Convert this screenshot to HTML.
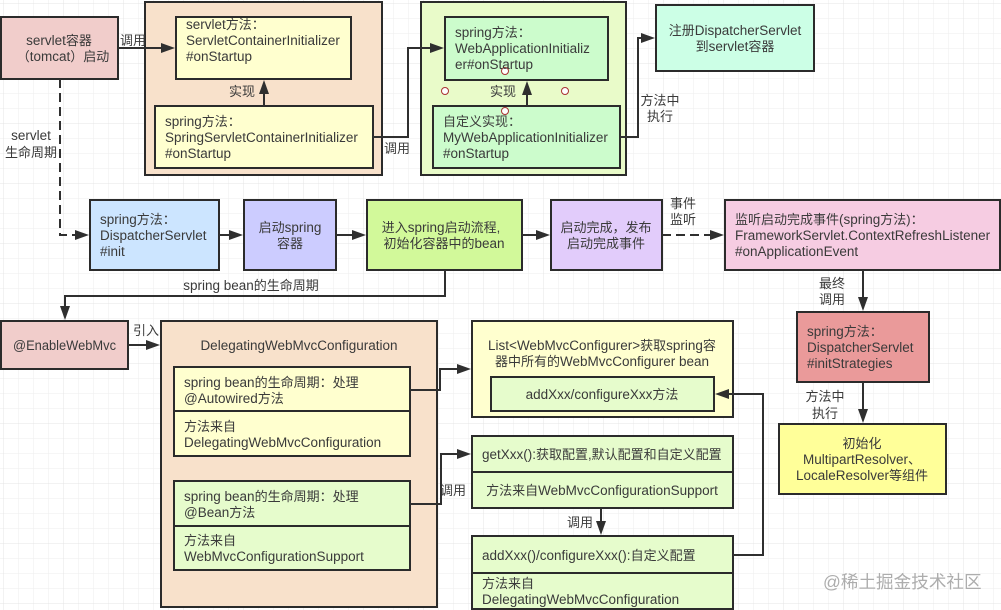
<!DOCTYPE html>
<html><head><meta charset="utf-8"><style>
html,body{margin:0;padding:0;background:#fff}
svg{display:block;filter:blur(.3px)}
text{font-family:"Liberation Sans","Noto Sans CJK SC",sans-serif;font-size:13.5px;fill:#3a3a3a}
tspan.c{font-size:13px}
.m{text-anchor:middle}
.b{stroke:#2b2b2b;stroke-width:2}
.l{fill:none;stroke:#2f2f2f;stroke-width:2}
.a{fill:#2f2f2f}
</style></head><body>
<svg width="1001" height="610" viewBox="0 0 1001 610" xmlns="http://www.w3.org/2000/svg">
<defs><pattern id="g" x="3" y="3" width="15" height="15" patternUnits="userSpaceOnUse"><path d="M0 0H15M0 0V15" fill="none" stroke="#eeeeee" stroke-width="1"/></pattern>
<pattern id="G" x="3" y="3" width="60" height="60" patternUnits="userSpaceOnUse"><path d="M0 0H60M0 0V60" fill="none" stroke="#e4e4e4" stroke-width="1"/></pattern></defs>
<rect width="1001" height="610" fill="#fff"/><rect width="1001" height="610" fill="url(#g)"/><rect width="1001" height="610" fill="url(#G)"/>

<!-- boxes -->
<rect class="b" x="1" y="17" width="117" height="62" fill="#f1cdcb"/>
<rect class="b" x="145" y="2" width="237" height="173" fill="#f8e1cb"/>
<rect class="b" x="176" y="17" width="175" height="62" fill="#ffffcf"/>
<rect class="b" x="155" y="106" width="218" height="62" fill="#ffffcf"/>
<rect class="b" x="421" y="2" width="205" height="173" fill="#e9fbc9"/>
<rect class="b" x="445" y="17" width="163" height="63" fill="#ccfccc"/>
<rect class="b" x="433" y="106" width="187" height="62" fill="#ccfccc"/>
<rect class="b" x="656" y="5" width="158" height="66" fill="#ccffe6"/>
<rect class="b" x="90" y="200" width="129" height="70" fill="#cce5ff"/>
<rect class="b" x="244" y="200" width="92" height="70" fill="#ccccff"/>
<rect class="b" x="367" y="200" width="155" height="70" fill="#d2f99a"/>
<rect class="b" x="551" y="200" width="111" height="70" fill="#e2ccfb"/>
<rect class="b" x="725" y="200" width="275" height="70" fill="#f6cce2"/>
<rect class="b" x="1" y="321" width="127" height="48" fill="#f1cdcb"/>
<rect class="b" x="161" y="321" width="276" height="286" fill="#f8e1cb"/>
<rect class="b" x="174" y="367" width="236" height="44" fill="#ffffcf"/>
<rect class="b" x="174" y="411" width="236" height="45" fill="#ffffcf"/>
<rect class="b" x="174" y="481" width="236" height="45" fill="#e6fccc"/>
<rect class="b" x="174" y="526" width="236" height="44" fill="#e6fccc"/>
<rect class="b" x="472" y="321" width="261" height="96" fill="#ffffcf"/>
<rect class="b" x="491" y="377" width="223" height="34" fill="#e6fccc"/>
<rect class="b" x="472" y="436" width="261" height="36" fill="#e6fccc"/>
<rect class="b" x="472" y="472" width="261" height="36" fill="#e6fccc"/>
<rect class="b" x="472" y="536" width="261" height="37" fill="#e6fccc"/>
<rect class="b" x="472" y="573" width="261" height="36" fill="#e6fccc"/>
<rect class="b" x="797" y="312" width="132" height="70" fill="#ea9a9a"/>
<rect class="b" x="779" y="424" width="167" height="70" fill="#ffff99"/>

<!-- connectors -->
<path class="l" d="M118 48H164"/><polygon class="a" points="175,48 161,43 161,53"/>
<path class="l" d="M264 106V90"/><polygon class="a" points="264,80 259,94 269,94"/>
<path class="l" d="M373 137H408V48H434"/><polygon class="a" points="444,48 430,43 430,53"/>
<path class="l" d="M527 106V90"/><polygon class="a" points="527,81 522,95 532,95"/>
<path class="l" d="M620 137H638V38H645"/><polygon class="a" points="655,38 641,33 641,43"/>
<path class="l" d="M60 79V235H80" stroke-dasharray="9 5"/><polygon class="a" points="89,235 75,230 75,240"/>
<path class="l" d="M219 235H233"/><polygon class="a" points="243,235 229,230 229,240"/>
<path class="l" d="M336 235H356"/><polygon class="a" points="366,235 352,230 352,240"/>
<path class="l" d="M522 235H540"/><polygon class="a" points="550,235 536,230 536,240"/>
<path class="l" d="M662 235H714" stroke-dasharray="9 5"/><polygon class="a" points="724,235 710,230 710,240"/>
<path class="l" d="M445 270V296H65V310"/><polygon class="a" points="65,320 60,306 70,306"/>
<path class="l" d="M128 345H150"/><polygon class="a" points="160,345 146,340 146,350"/>
<path class="l" d="M410 390H440V369H461"/><polygon class="a" points="471,369 457,364 457,374"/>
<path class="l" d="M410 504H441V454H461"/><polygon class="a" points="471,454 457,449 457,459"/>
<path class="l" d="M601 508V526"/><polygon class="a" points="601,535 596,521 606,521"/>
<path class="l" d="M733 555H763V394H725"/><polygon class="a" points="715,394 729,389 729,399"/>
<path class="l" d="M863 270V300"/><polygon class="a" points="863,311 858,297 868,297"/>
<path class="l" d="M863 382V412"/><polygon class="a" points="863,423 858,409 868,409"/>

<g fill="#fff" stroke="#a33" stroke-width="1">
<circle cx="505" cy="71" r="3.5"/><circle cx="445" cy="91" r="3.5"/><circle cx="565" cy="91" r="3.5"/><circle cx="505" cy="111" r="3.5"/>
</g>

<!-- box text -->
<text class="m" x="59" y="45">servlet<tspan class="c">容器</tspan></text>
<text class="m" x="63" y="61"><tspan class="c">（</tspan>tomcat<tspan class="c">）启动</tspan></text>
<text x="186" y="29">servlet<tspan class="c">方法：</tspan></text>
<text x="186" y="45">ServletContainerInitializer</text>
<text x="186" y="61">#onStartup</text>
<text x="165" y="126">spring<tspan class="c">方法：</tspan></text>
<text x="165" y="142">SpringServletContainerInitializer</text>
<text x="165" y="158">#onStartup</text>
<text x="455" y="37">spring<tspan class="c">方法：</tspan></text>
<text x="455" y="53">WebApplicationInitializ</text>
<text x="455" y="69">er#onStartup</text>
<text x="443" y="126"><tspan class="c">自定义实现：</tspan></text>
<text x="443" y="142">MyWebApplicationInitializer</text>
<text x="443" y="158">#onStartup</text>
<text class="m" x="735" y="35"><tspan class="c">注册</tspan>DispatcherServlet</text>
<text class="m" x="735" y="51"><tspan class="c">到</tspan>servlet<tspan class="c">容器</tspan></text>
<text x="100" y="224">spring<tspan class="c">方法：</tspan></text>
<text x="100" y="240">DispatcherServlet</text>
<text x="100" y="256">#init</text>
<text class="m" x="290" y="232"><tspan class="c">启动</tspan>spring</text>
<text class="m" x="290" y="248"><tspan class="c">容器</tspan></text>
<text class="m" x="441" y="232"><tspan class="c">进入</tspan>spring<tspan class="c">启动流程,</tspan></text>
<text class="m" x="444" y="248"><tspan class="c">初始化容器中的</tspan>bean</text>
<text class="m" x="606" y="232"><tspan class="c">启动完成，发布</tspan></text>
<text class="m" x="606" y="248"><tspan class="c">启动完成事件</tspan></text>
<text x="735" y="224"><tspan class="c">监听启动完成事件</tspan>(spring<tspan class="c">方法)：</tspan></text>
<text x="735" y="240">FrameworkServlet.ContextRefreshListener</text>
<text x="735" y="256">#onApplicationEvent</text>
<text x="13" y="350" textLength="103" lengthAdjust="spacingAndGlyphs">@EnableWebMvc</text>
<text class="m" x="299" y="350">DelegatingWebMvcConfiguration</text>
<text x="184" y="387">spring bean<tspan class="c">的生命周期：处理</tspan></text>
<text x="184" y="403">@Autowired<tspan class="c">方法</tspan></text>
<text x="184" y="431"><tspan class="c">方法来自</tspan></text>
<text x="184" y="447">DelegatingWebMvcConfiguration</text>
<text x="184" y="501">spring bean<tspan class="c">的生命周期：处理</tspan></text>
<text x="184" y="517">@Bean<tspan class="c">方法</tspan></text>
<text x="184" y="545"><tspan class="c">方法来自</tspan></text>
<text x="184" y="561">WebMvcConfigurationSupport</text>
<text class="m" x="602" y="350">List&lt;WebMvcConfigurer&gt;<tspan class="c">获取</tspan>spring<tspan class="c">容</tspan></text>
<text class="m" x="602" y="366"><tspan class="c">器中所有的</tspan>WebMvcConfigurer bean</text>
<text class="m" x="602" y="399">addXxx/configureXxx<tspan class="c">方法</tspan></text>
<text x="482" y="459">getXxx():<tspan class="c">获取配置,默认配置和自定义配置</tspan></text>
<text class="m" x="602" y="495"><tspan class="c">方法来自</tspan>WebMvcConfigurationSupport</text>
<text x="482" y="560">addXxx()/configureXxx():<tspan class="c">自定义配置</tspan></text>
<text x="482" y="588"><tspan class="c">方法来自</tspan></text>
<text x="482" y="604">DelegatingWebMvcConfiguration</text>
<text x="807" y="336">spring<tspan class="c">方法：</tspan></text>
<text x="807" y="352">DispatcherServlet</text>
<text x="807" y="368">#initStrategies</text>
<text class="m" x="862" y="448"><tspan class="c">初始化</tspan></text>
<text x="803" y="464">MultipartResolver<tspan class="c">、</tspan></text>
<text class="m" x="862" y="480">LocaleResolver<tspan class="c">等组件</tspan></text>

<!-- connector labels -->
<text x="120" y="45"><tspan class="c">调用</tspan></text>
<text x="229" y="96"><tspan class="c">实现</tspan></text>
<text x="384" y="153"><tspan class="c">调用</tspan></text>
<text x="490" y="96"><tspan class="c">实现</tspan></text>
<text class="m" x="660" y="105"><tspan class="c">方法中</tspan></text>
<text class="m" x="660" y="121"><tspan class="c">执行</tspan></text>
<text class="m" x="31" y="140">servlet</text>
<text class="m" x="31" y="157"><tspan class="c">生命周期</tspan></text>
<text class="m" x="251" y="290">spring bean<tspan class="c">的生命周期</tspan></text>
<text x="133" y="335"><tspan class="c">引入</tspan></text>
<text class="m" x="683" y="208"><tspan class="c">事件</tspan></text>
<text class="m" x="683" y="224"><tspan class="c">监听</tspan></text>
<text class="m" x="832" y="288"><tspan class="c">最终</tspan></text>
<text class="m" x="832" y="304"><tspan class="c">调用</tspan></text>
<text x="440" y="495"><tspan class="c">调用</tspan></text>
<text x="567" y="527"><tspan class="c">调用</tspan></text>
<text class="m" x="825" y="401"><tspan class="c">方法中</tspan></text>
<text class="m" x="825" y="418"><tspan class="c">执行</tspan></text>
<text x="823" y="588" style="font-size:17.6px;fill:#adadad">@稀土掘金技术社区</text>
</svg>
</body></html>
